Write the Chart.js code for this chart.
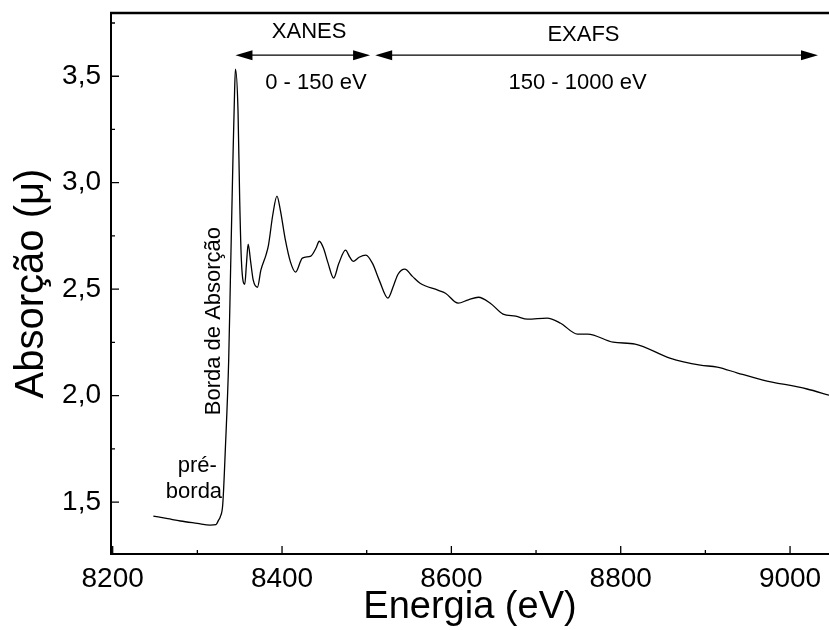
<!DOCTYPE html>
<html lang="pt">
<head>
<meta charset="UTF-8">
<title>Espectro de absorção</title>
<script src="https://cdn.jsdelivr.net/npm/chart.js"></script>
<style>
  body { margin: 0; background: #fff; }
</style>
</head>
<body>
<canvas id="xasChart" width="829" height="630"></canvas>
<script>
// curve (eV, μ)
const energy = [8248, 8265, 8280, 8300, 8315, 8322, 8325, 8327, 8330, 8333,
  8337, 8339, 8342, 8344, 8345, 8348, 8350, 8352, 8356, 8358,
  8360, 8363, 8366, 8371, 8375, 8381, 8384, 8389, 8394, 8398,
  8404, 8410, 8416, 8424, 8434, 8440, 8444, 8449, 8454, 8461,
  8467, 8475, 8480, 8484, 8491, 8499, 8507, 8515, 8525, 8532,
  8537, 8545, 8554, 8563, 8584, 8593, 8608, 8620, 8632, 8646,
  8661, 8676, 8690, 8713, 8729, 8749, 8761, 8791, 8817, 8858,
  8894, 8914, 8938, 8968, 9020, 9046];
const absorption = [1.434, 1.422, 1.411, 1.400, 1.392, 1.394, 1.415, 1.430, 1.490, 1.744,
  2.167, 2.542, 3.106, 3.434, 3.533, 3.340, 2.918, 2.636, 2.523, 2.620,
  2.711, 2.627, 2.542, 2.509, 2.589, 2.660, 2.707, 2.847, 2.937, 2.871,
  2.730, 2.627, 2.580, 2.646, 2.655, 2.692, 2.725, 2.692, 2.627, 2.552,
  2.620, 2.683, 2.650, 2.630, 2.650, 2.660, 2.620, 2.540, 2.458, 2.520,
  2.570, 2.594, 2.560, 2.528, 2.495, 2.481, 2.434, 2.450, 2.462, 2.434,
  2.383, 2.373, 2.359, 2.364, 2.340, 2.289, 2.289, 2.251, 2.242, 2.176,
  2.143, 2.134, 2.106, 2.073, 2.031, 2.002];

const xMajorTicks = [8200, 8400, 8600, 8800, 9000];
const xMinorTicks = [8300, 8500, 8700, 8900];
const yMajorTicks = [1.5, 2.0, 2.5, 3.0, 3.5];
const yMinorTicks = [1.75, 2.25, 2.75, 3.25, 3.75];

// region markers (eV)
const xanesRange = [8345, 8504];
const exafsRange = [8510, 9033];

const points = energy.map((e, i) => ({ x: e, y: absorption[i] }));
const FONT = "'Liberation Sans', Arial, sans-serif";

// frame, inward ticks, arrows and text labels
const annotations = {
  id: 'annotations',
  afterDraw(chart) {
    const { ctx, chartArea: a, scales: { x, y } } = chart;
    ctx.save();
    ctx.strokeStyle = '#000';
    ctx.fillStyle = '#000';

    // top frame
    ctx.lineWidth = 2.5;
    ctx.beginPath();
    ctx.moveTo(a.left - 1, a.top);
    ctx.lineTo(a.right, a.top);
    ctx.stroke();

    // inward ticks
    ctx.lineWidth = 1.3;
    ctx.beginPath();
    xMajorTicks.forEach(v => { const px = x.getPixelForValue(v); ctx.moveTo(px, a.bottom); ctx.lineTo(px, a.bottom - 8); });
    xMinorTicks.forEach(v => { const px = x.getPixelForValue(v); ctx.moveTo(px, a.bottom); ctx.lineTo(px, a.bottom - 4); });
    yMajorTicks.forEach(v => { const py = y.getPixelForValue(v); ctx.moveTo(a.left, py); ctx.lineTo(a.left + 8, py); });
    yMinorTicks.forEach(v => { const py = y.getPixelForValue(v); ctx.moveTo(a.left, py); ctx.lineTo(a.left + 4, py); });
    ctx.stroke();

    // double arrows
    function arrow(x1, x2, yv) {
      const p1 = x.getPixelForValue(x1), p2 = x.getPixelForValue(x2), py = y.getPixelForValue(yv);
      const head = 17, half = 5;
      ctx.lineWidth = 1.3;
      ctx.beginPath();
      ctx.moveTo(p1 + head - 2, py);
      ctx.lineTo(p2 - head + 2, py);
      ctx.stroke();
      ctx.beginPath();
      ctx.moveTo(p1, py); ctx.lineTo(p1 + head, py - half); ctx.lineTo(p1 + head, py + half); ctx.closePath();
      ctx.moveTo(p2, py); ctx.lineTo(p2 - head, py - half); ctx.lineTo(p2 - head, py + half); ctx.closePath();
      ctx.fill();
    }
    arrow(xanesRange[0], xanesRange[1], 3.599);
    arrow(exafsRange[0], exafsRange[1], 3.599);

    ctx.font = '22px ' + FONT;
    ctx.textAlign = 'center';
    ctx.textBaseline = 'middle';
    const text = (s, xv, yv) => ctx.fillText(s, x.getPixelForValue(xv), y.getPixelForValue(yv));
    text('XANES', 8432, 3.71);
    text('0 - 150 eV', 8440, 3.467);
    text('EXAFS', 8756, 3.695);
    text('150 - 1000 eV', 8749, 3.467);
    text('pré-', 8300, 1.669);
    text('borda', 8296, 1.547);

    ctx.translate(x.getPixelForValue(8319), y.getPixelForValue(2.35));
    ctx.rotate(-Math.PI / 2);
    ctx.fillText('Borda de Absorção', 0, 0);
    ctx.restore();
  }
};

new Chart(document.getElementById('xasChart').getContext('2d'), {
  type: 'line',
  data: {
    datasets: [{
      data: points,
      borderColor: '#000',
      borderWidth: 1.3,
      pointRadius: 0,
      fill: false,
      cubicInterpolationMode: 'monotone'
    }]
  },
  options: {
    responsive: false,
    animation: false,
    layout: { padding: { left: 0, right: 0, top: 13, bottom: 0 } },
    plugins: { legend: { display: false }, tooltip: { enabled: false } },
    scales: {
      x: {
        type: 'linear',
        min: 8198,
        max: 9046,
        grid: { display: false, drawTicks: false },
        border: { display: true, color: '#000', width: 2 },
        afterBuildTicks: s => { s.ticks = xMajorTicks.map(v => ({ value: v })); },
        afterFit: s => { s.height = 76; s.paddingLeft = 0; s.paddingRight = 0; },
        ticks: {
          color: '#000', padding: 8, maxRotation: 0, font: { family: FONT, size: 28 },
          callback: v => String(v)
        },
        title: { display: true, text: 'Energia (eV)', color: '#000', padding: 0, font: { family: FONT, size: 38 } }
      },
      y: {
        min: 1.256,
        max: 3.797,
        grid: { display: false, drawTicks: false },
        border: { display: true, color: '#000', width: 2 },
        afterBuildTicks: s => { s.ticks = yMajorTicks.map(v => ({ value: v })); },
        afterFit: s => { s.width = 111; s.paddingTop = 0; s.paddingBottom = 0; },
        ticks: {
          color: '#000', padding: 10, font: { family: FONT, size: 28 },
          callback: v => v.toFixed(1).replace('.', ',')
        },
        title: { display: true, text: 'Absorção (μ)', color: '#000', padding: 8, font: { family: FONT, size: 40 } }
      }
    }
  },
  plugins: [annotations]
});
</script>
</body>
</html>
